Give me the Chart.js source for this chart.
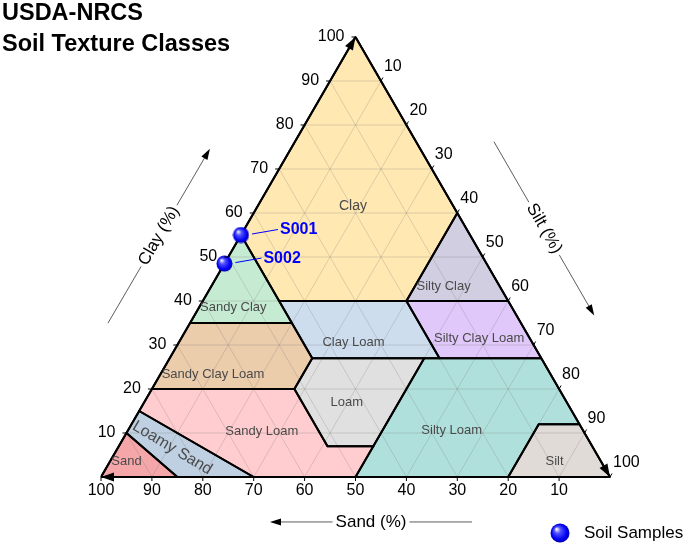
<!DOCTYPE html>
<html>
<head>
<meta charset="utf-8">
<script src="https://cdn.jsdelivr.net/npm/chart.js@4.4.1/dist/chart.umd.min.js"></script>
<style>
  html, body { margin: 0; padding: 0; background: #fff; }
  #wrap { width: 685px; height: 543px; }
</style>
</head>
<body>
<div id="wrap"><canvas id="chart-1" width="685" height="543"></canvas></div>
<script>
// tick labels on the three edges
const sandTicks = [100, 90, 80, 70, 60, 50, 40, 30, 20, 10];
const clayTicks = [10, 20, 30, 40, 50, 60, 70, 80, 90, 100];
const siltTicks = [10, 20, 30, 40, 50, 60, 70, 80, 90, 100];
const gridSteps = [10, 20, 30, 40, 50, 60, 70, 80, 90];

// soil samples (percent)
const sampleNames = ['S001', 'S002'];
const sampleSand = [45, 51.5];
const sampleClay = [55, 48.5];
const sampleSilt = [0, 0];

// USDA texture classes, vertices as [sand, clay, silt]
const classNames = [
  'Clay', 'Sandy Clay', 'Silty Clay', 'Silty Clay Loam', 'Clay Loam', 'Sandy Clay Loam',
  'Loam', 'Silty Loam', 'Silt', 'Sandy Loam', 'Loamy Sand', 'Sand'
];
const classVertices = [
  [[0, 100, 0], [0, 60, 40], [20, 40, 40], [45, 40, 15], [45, 55, 0]],
  [[45, 55, 0], [45, 35, 20], [65, 35, 0]],
  [[0, 60, 40], [0, 40, 60], [20, 40, 40]],
  [[0, 40, 60], [0, 27, 73], [20, 27, 53], [20, 40, 40]],
  [[20, 40, 40], [20, 27, 53], [45, 27, 28], [45, 40, 15]],
  [[45, 35, 20], [45, 27, 28], [52, 20, 28], [80, 20, 0], [65, 35, 0]],
  [[45, 27, 28], [23, 27, 50], [43, 7, 50], [52, 7, 41], [52, 20, 28]],
  [[23, 27, 50], [0, 27, 73], [0, 12, 88], [8, 12, 80], [20, 0, 80], [50, 0, 50]],
  [[8, 12, 80], [0, 12, 88], [0, 0, 100], [20, 0, 80]],
  [[80, 20, 0], [52, 20, 28], [52, 7, 41], [43, 7, 50], [50, 0, 50], [70, 0, 30], [85, 15, 0]],
  [[85, 15, 0], [70, 0, 30], [85, 0, 15], [90, 10, 0]],
  [[90, 10, 0], [85, 0, 15], [100, 0, 0]]
];

// styles and label anchors (plane units) for each class
const classColors = [
  '#FFE8B2', '#C6EBD3', '#D0CEE0', '#E0C8FA', '#CDDDEE', '#EBCCAB',
  '#E0E0E0', '#B0E0DC', '#E1DBD8', '#FFCDCF', '#BFD0E2', '#F5A6A9'
];
const classLabelAt = [
  [49.5, 53.4], [26.0, 33.3], [67.3, 37.6], [74.3, 27.3], [49.6, 26.4], [22.0, 20.2],
  [48.3, 14.7], [68.9, 9.2], [89.1, 3.0], [31.6, 8.9], [14.0, 5.7], [5.0, 3.1]
];

const H = Math.sqrt(3) / 2;
const toXY = (sand, clay, silt) => ({ x: silt + clay / 2, y: clay * H });
const FONT = '"Liberation Sans", Arial, sans-serif';

function makeSphere(d) {
  const c = document.createElement('canvas');
  c.width = c.height = d;
  const g = c.getContext('2d');
  const r = d / 2;
  const grad = g.createRadialGradient(r * 0.65, r * 0.6, r * 0.05, r, r, r);
  grad.addColorStop(0, '#f0f0ff');
  grad.addColorStop(0.3, '#5050ff');
  grad.addColorStop(0.75, '#0000f2');
  grad.addColorStop(1, '#0000a8');
  g.fillStyle = grad;
  g.beginPath();
  g.arc(r, r, r - 0.5, 0, Math.PI * 2);
  g.fill();
  return c;
}
const sphere = makeSphere(17);
const legendSphere = makeSphere(20);

const polyData = classVertices.map(v => v.concat([v[0]]).map(p => toXY(p[0], p[1], p[2])));

const datasets = [];
datasets.push({
  label: 'Soil Samples',
  data: sampleNames.map((n, i) => toXY(sampleSand[i], sampleClay[i], sampleSilt[i])),
  pointStyle: sphere,
  pointRadius: 8,
  showLine: false,
  clip: false,
  order: 0
});
classNames.forEach((name, i) => {
  datasets.push({
    label: name + ' outline',
    data: polyData[i],
    showLine: true,
    borderColor: '#000',
    borderWidth: 2,
    borderJoinStyle: 'round',
    borderCapStyle: 'round',
    pointRadius: 0,
    fill: false,
    order: 1
  });
});
datasets.push({
  label: 'frame',
  data: [toXY(100, 0, 0), toXY(0, 100, 0), toXY(0, 0, 100), toXY(100, 0, 0)],
  showLine: true,
  borderColor: '#000',
  borderWidth: 2,
  borderJoinStyle: 'round',
  pointRadius: 0,
  fill: false,
  clip: false,
  order: 1
});
// grid lines of constant clay, sand and silt
gridSteps.forEach(k => {
  const lines = [
    [toXY(100 - k, k, 0), toXY(0, k, 100 - k)],
    [toXY(k, 0, 100 - k), toXY(k, 100 - k, 0)],
    [toXY(100 - k, 0, k), toXY(0, 100 - k, k)]
  ];
  lines.forEach(seg => datasets.push({
    label: 'grid',
    data: seg,
    showLine: true,
    borderColor: 'rgba(120,120,120,0.26)',
    borderWidth: 1,
    pointRadius: 0,
    fill: false,
    order: 2
  }));
});
classNames.forEach((name, i) => {
  datasets.push({
    label: name,
    data: polyData[i],
    showLine: true,
    borderWidth: 0,
    borderColor: 'rgba(0,0,0,0)',
    backgroundColor: classColors[i],
    pointRadius: 0,
    fill: 'shape',
    order: 3
  });
});

function arrowHead(ctx, x, y, ang, len, hw) {
  ctx.save();
  ctx.translate(x, y);
  ctx.rotate(ang);
  ctx.beginPath();
  ctx.moveTo(0, 0);
  ctx.lineTo(-len, -hw);
  ctx.lineTo(-len, hw);
  ctx.closePath();
  ctx.fill();
  ctx.restore();
}

function titleArrow(ctx, x0, y0, x1, y1, text, rot) {
  const cx = (x0 + x1) / 2, cy = (y0 + y1) / 2;
  const len = Math.hypot(x1 - x0, y1 - y0);
  const ux = (x1 - x0) / len, uy = (y1 - y0) / len;
  ctx.font = '17px ' + FONT;
  const gap = ctx.measureText(text).width / 2 + 3;
  ctx.strokeStyle = '#333';
  ctx.fillStyle = '#000';
  ctx.lineWidth = 0.8;
  ctx.beginPath();
  ctx.moveTo(x0, y0);
  ctx.lineTo(cx - ux * gap, cy - uy * gap);
  ctx.moveTo(cx + ux * gap, cy + uy * gap);
  ctx.lineTo(x1 - ux * 6, y1 - uy * 6);
  ctx.stroke();
  arrowHead(ctx, x1, y1, Math.atan2(uy, ux), 11, 3.5);
  ctx.save();
  ctx.translate(cx, cy);
  ctx.rotate(rot);
  ctx.textAlign = 'center';
  ctx.textBaseline = 'middle';
  ctx.fillText(text, 0, 0);
  ctx.restore();
}

const ternaryDecor = {
  id: 'ternaryDecor',
  afterDatasetsDraw(chart) {
    const ctx = chart.ctx;
    const sx = chart.scales.x, sy = chart.scales.y;
    const P = (x, y) => [sx.getPixelForValue(x), sy.getPixelForValue(y)];
    const T = (sand, clay, silt) => { const p = toXY(sand, clay, silt); return P(p.x, p.y); };
    ctx.save();

    // class names
    ctx.fillStyle = '#4a4a4a';
    ctx.textAlign = 'center';
    ctx.textBaseline = 'middle';
    classNames.forEach((name, i) => {
      const [x, y] = P(classLabelAt[i][0], classLabelAt[i][1]);
      if (name === 'Loamy Sand') {
        ctx.save();
        ctx.translate(x, y);
        ctx.rotate(31 * Math.PI / 180);
        ctx.font = '16px ' + FONT;
        ctx.fillText(name, 0, 0);
        ctx.restore();
      } else {
        ctx.font = (name === 'Clay' ? '14px ' : '13px ') + FONT;
        ctx.fillText(name, x, y);
      }
    });

    // edge ticks and tick labels
    ctx.fillStyle = '#000';
    ctx.strokeStyle = '#000';
    ctx.lineWidth = 1;
    ctx.font = '16px ' + FONT;
    sandTicks.forEach(s => {
      const [x, y] = T(s, 0, 100 - s);
      ctx.beginPath(); ctx.moveTo(x, y); ctx.lineTo(x, y + 4); ctx.stroke();
      ctx.textAlign = 'center'; ctx.textBaseline = 'middle';
      ctx.fillText(String(s), x, y + 14);
    });
    clayTicks.forEach(c => {
      const [x, y] = T(100 - c, c, 0);
      ctx.beginPath(); ctx.moveTo(x, y); ctx.lineTo(x - 4, y); ctx.stroke();
      ctx.textAlign = 'right'; ctx.textBaseline = 'middle';
      ctx.fillText(String(c), x - 11, y);
    });
    siltTicks.forEach(t => {
      const [x, y] = T(0, 100 - t, t);
      ctx.beginPath(); ctx.moveTo(x, y); ctx.lineTo(x + 2, y - 3.5); ctx.stroke();
      ctx.textAlign = 'left'; ctx.textBaseline = 'middle';
      ctx.fillText(String(t), x + 3, y - 14);
    });

    // arrowheads at the corners
    const [lx, ly] = T(100, 0, 0), [tx, ty] = T(0, 100, 0), [rx, ry] = T(0, 0, 100);
    arrowHead(ctx, lx, ly, Math.PI, 13, 4.5);
    arrowHead(ctx, tx, ty, Math.atan2(ty - ly, tx - lx), 13, 4.5);
    arrowHead(ctx, rx, ry, Math.atan2(ry - ty, rx - tx), 13, 4.5);

    // axis titles with direction arrows
    const ca = P(1.38, 30.3), cb = P(21.4, 64.6);
    titleArrow(ctx, ca[0], ca[1], cb[0], cb[1], 'Clay (%)', -Math.PI / 3);
    const ta = P(77.2, 66.0), tb = P(96.9, 31.8);
    titleArrow(ctx, ta[0], ta[1], tb[0], tb[1], 'Silt (%)', Math.PI / 3);
    const sa = P(72.9, -8.85), sb = P(33.2, -8.85);
    titleArrow(ctx, sa[0], sa[1], sb[0], sb[1], 'Sand (%)', 0);

    // sample labels with leader lines
    ctx.strokeStyle = '#0000ff';
    ctx.fillStyle = '#0000ff';
    ctx.lineWidth = 1;
    ctx.font = 'bold 16px ' + FONT;
    ctx.textAlign = 'left';
    ctx.textBaseline = 'middle';
    sampleNames.forEach((n, i) => {
      const [x, y] = T(sampleSand[i], sampleClay[i], sampleSilt[i]);
      ctx.beginPath(); ctx.moveTo(x + 11, y - 1); ctx.lineTo(x + 37, y - 5.5); ctx.stroke();
      ctx.fillText(n, x + 39, y - 5);
    });

    // title
    ctx.fillStyle = '#000';
    ctx.font = 'bold 23.5px ' + FONT;
    ctx.textBaseline = 'alphabetic';
    ctx.fillText('USDA-NRCS', 2, 20);
    ctx.fillText('Soil Texture Classes', 2, 51);

    // legend
    ctx.drawImage(legendSphere, 560 - 10, 533 - 10);
    ctx.font = '17px ' + FONT;
    ctx.textBaseline = 'middle';
    ctx.fillText('Soil Samples', 584, 533);
    ctx.restore();
  }
};

const config = {
  type: 'scatter',
  data: { datasets: datasets },
  options: {
    responsive: false,
    animation: false,
    events: [],
    devicePixelRatio: 1,
    layout: { padding: { left: 101, right: 75, top: 37, bottom: 66 } },
    scales: {
      x: { type: 'linear', min: 0, max: 100, display: false },
      y: { type: 'linear', min: 0, max: 100 * H, display: false }
    },
    plugins: {
      legend: { display: false },
      tooltip: { enabled: false }
    }
  },
  plugins: [ternaryDecor]
};

const chart1 = new Chart(document.getElementById('chart-1'), config);
</script>
</body>
</html>
